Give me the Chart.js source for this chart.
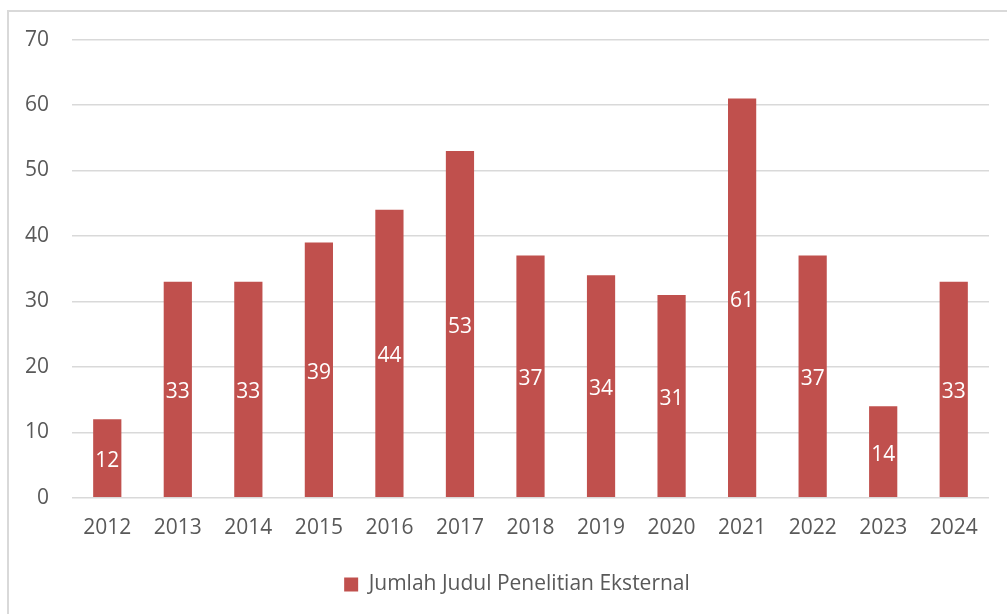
<!DOCTYPE html>
<html>
<head>
<meta charset="utf-8">
<script src="https://cdn.jsdelivr.net/npm/chart.js@4.4.1/dist/chart.umd.min.js"></script>
<style>
  html, body { margin: 0; padding: 0; background: #fff; overflow: hidden; }
  #frame {
    position: absolute; left: 7px; top: 10px;
    width: 1030px; height: 700px;
    border: 2px solid #d9d9d9; box-sizing: border-box;
  }
  #wrap { position: absolute; left: 9px; top: 4px; width: 1016px; height: 609px; }
</style>
</head>
<body>
<div id="frame"></div>
<div id="wrap"><canvas id="chart"></canvas></div>
<script>
// chart data
const years = ["2012", "2013", "2014", "2015", "2016", "2017", "2018", "2019", "2020", "2021", "2022", "2023", "2024"];
const jumlahJudul = [12, 33, 33, 39, 44, 53, 37, 34, 31, 61, 37, 14, 33];
const seriesName = "Jumlah Judul Penelitian Eksternal";

const FONT = "'Open Sans', 'Noto Sans', sans-serif";
const TEXT_COLOR = "#595959";
const BAR_COLOR = "#C0504D";

// white value labels in the middle of each bar
const barLabels = {
    id: "barLabels",
    afterDatasetsDraw(chart) {
        const ctx = chart.ctx;
        ctx.save();
        ctx.font = "21px " + FONT;
        ctx.fillStyle = "#ffffff";
        ctx.textAlign = "center";
        ctx.textBaseline = "middle";
        chart.getDatasetMeta(0).data.forEach((bar, i) => {
            const mid = (bar.y + bar.base) / 2 + 3; // Open Sans sits a little high on "middle"
            ctx.fillText(String(jumlahJudul[i]), bar.x, mid);
        });
        ctx.restore();
    }
};

// the legend is centred on the whole frame, not on the plot area
const centreLegend = {
    id: "centreLegend",
    afterLayout(chart) {
        chart.legend.left += 18;
        chart.legend.right += 18;
    }
};

new Chart(document.getElementById("chart"), {
    type: "bar",
    data: {
        labels: years,
        datasets: [{
            label: seriesName,
            data: jumlahJudul,
            backgroundColor: BAR_COLOR,
            barPercentage: 0.8,
            categoryPercentage: 0.5
        }]
    },
    options: {
        responsive: true,
        maintainAspectRatio: false,
        animation: false,
        layout: { padding: { top: 8, right: 36, bottom: 8, left: 0 } },
        plugins: {
            legend: {
                position: "bottom",
                labels: {
                    color: TEXT_COLOR,
                    font: { family: FONT, size: 21 },
                    boxWidth: 14,
                    boxHeight: 14,
                    padding: 15
                }
            },
            tooltip: { enabled: false }
        },
        scales: {
            x: {
                grid: { display: false, drawTicks: false },
                border: { display: false },
                ticks: { color: TEXT_COLOR, font: { family: FONT, size: 21 }, padding: 18, maxRotation: 0 }
            },
            y: {
                min: 0,
                max: 70,
                afterFit: s => { s.width = 63; },
                grid: { color: "#d9d9d9", lineWidth: 1.5, drawTicks: false },
                border: { display: false },
                ticks: { stepSize: 10, color: TEXT_COLOR, font: { family: FONT, size: 21 }, padding: 23 }
            }
        }
    },
    plugins: [barLabels, centreLegend]
});
</script>
</body>
</html>
